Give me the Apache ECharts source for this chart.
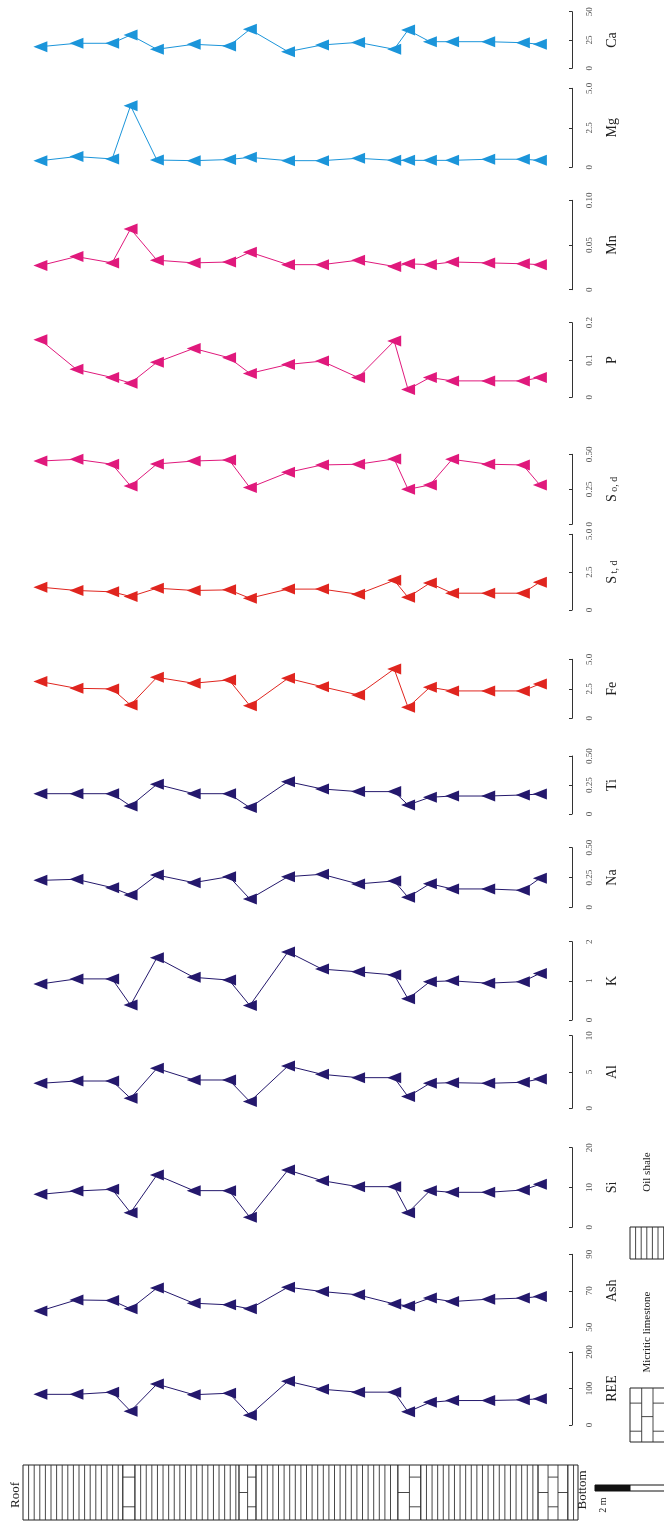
<!DOCTYPE html>
<html>
<head>
<meta charset="utf-8">
<script src="https://cdn.jsdelivr.net/npm/echarts@6/dist/echarts.min.js"></script>
<style>
  html, body { margin: 0; padding: 0; background: #fff; }
  #chart { width: 664px; height: 1521px; }
</style>
</head>
<body>
<div id="chart"></div>
<script>
// sample positions along the section, metres below the roof
const sampleDepth = [0.50, 1.54, 2.57, 3.10, 3.86, 4.92, 5.94, 6.54, 7.64, 8.62, 9.66, 10.70, 11.10, 11.73, 12.37, 13.41, 14.41, 14.90];

// element names, top panel first
const elements = ['Ca', 'Mg', 'Mn', 'P', 'So,d', 'St,d', 'Fe', 'Ti', 'Na', 'K', 'Al', 'Si', 'Ash', 'REE'];

const caValues = [19.1, 22.1, 22.1, 29.4, 16.8, 21.2, 19.7, 34.4, 14.7, 20.6, 22.9, 16.8, 33.8, 23.5, 23.5, 23.5, 22.6, 21.2];
const mgValues = [0.42, 0.68, 0.53, 3.90, 0.46, 0.42, 0.49, 0.63, 0.42, 0.42, 0.57, 0.44, 0.44, 0.44, 0.44, 0.51, 0.51, 0.44];
const mnValues = [0.027, 0.037, 0.030, 0.068, 0.033, 0.030, 0.031, 0.042, 0.028, 0.028, 0.033, 0.026, 0.029, 0.028, 0.031, 0.030, 0.029, 0.028];
const pValues = [0.154, 0.075, 0.053, 0.038, 0.094, 0.131, 0.106, 0.064, 0.088, 0.097, 0.053, 0.151, 0.021, 0.053, 0.044, 0.044, 0.044, 0.053];
const sodValues = [0.452, 0.464, 0.429, 0.274, 0.431, 0.452, 0.460, 0.262, 0.371, 0.424, 0.429, 0.467, 0.250, 0.281, 0.464, 0.429, 0.424, 0.281];
const stdValues = [1.51, 1.29, 1.20, 0.89, 1.44, 1.29, 1.33, 0.78, 1.38, 1.38, 1.04, 1.96, 0.84, 1.78, 1.11, 1.11, 1.11, 1.84];
const feValues = [3.11, 2.54, 2.49, 1.13, 3.47, 2.97, 3.25, 1.07, 3.39, 2.68, 1.98, 4.18, 0.93, 2.63, 2.32, 2.32, 2.32, 2.91];
const tiValues = [0.175, 0.175, 0.175, 0.069, 0.256, 0.175, 0.175, 0.055, 0.279, 0.216, 0.193, 0.193, 0.078, 0.144, 0.155, 0.155, 0.164, 0.172];
const naValues = [0.226, 0.235, 0.165, 0.103, 0.271, 0.207, 0.257, 0.070, 0.257, 0.277, 0.196, 0.221, 0.084, 0.198, 0.154, 0.154, 0.142, 0.243];
const kValues = [0.92, 1.05, 1.05, 0.38, 1.59, 1.09, 1.02, 0.37, 1.74, 1.30, 1.23, 1.15, 0.54, 0.98, 1.00, 0.94, 0.98, 1.19];
const alValues = [3.44, 3.76, 3.76, 1.38, 5.50, 3.90, 3.90, 0.92, 5.83, 4.68, 4.22, 4.22, 1.61, 3.44, 3.53, 3.44, 3.58, 4.04];
const siValues = [8.28, 9.12, 9.54, 3.68, 13.14, 9.21, 9.21, 2.51, 14.39, 11.72, 10.21, 10.21, 3.68, 9.21, 8.79, 8.79, 9.37, 10.79];
const ashValues = [59.0, 65.0, 64.7, 60.1, 71.5, 63.2, 62.3, 60.1, 72.0, 69.6, 67.8, 62.8, 61.7, 66.0, 64.1, 65.4, 66.0, 66.9];
const reeValues = [84, 84, 90, 38, 112, 83, 87, 27, 120, 98, 90, 90, 36, 62, 67, 67, 69, 72];

const seriesValues = [caValues, mgValues, mnValues, pValues, sodValues, stdValues, feValues, tiValues, naValues, kValues, alValues, siValues, ashValues, reeValues];

// value axis ticks and their printed labels
const tickValues = [
  [0, 25, 50], [0, 2.5, 5], [0, 0.05, 0.1], [0, 0.1, 0.2], [0, 0.25, 0.5], [0, 2.5, 5], [0, 2.5, 5],
  [0, 0.25, 0.5], [0, 0.25, 0.5], [0, 1, 2], [0, 5, 10], [0, 10, 20], [50, 70, 90], [0, 100, 200]
];
const tickLabels = [
  ['0', '25', '50'], ['0', '2.5', '5.0'], ['0', '0.05', '0.10'], ['0', '0.1', '0.2'], ['0', '0.25', '0.50'],
  ['0', '2.5', '5.0'], ['0', '2.5', '5.0'], ['0', '0.25', '0.50'], ['0', '0.25', '0.50'], ['0', '1', '2'],
  ['0', '5', '10'], ['0', '10', '20'], ['50', '70', '90'], ['0', '100', '200']
];

// lithology column (metres)
const layerTop = [0, 2.88, 3.23, 6.23, 6.72, 10.81, 11.47, 14.85, 15.71];
const layerBase = [2.88, 3.23, 6.23, 6.72, 10.81, 11.47, 14.85, 15.71, 16];
const layerRock = ['shale', 'limestone', 'shale', 'limestone', 'shale', 'limestone', 'shale', 'limestone', 'shale'];

// ---- layout ----
const NAVY = '#24186c', RED = '#e0251f', PINK = '#e0197c', BLUE = '#1b95da';
const panelColor = [BLUE, BLUE, PINK, PINK, PINK, RED, RED, NAVY, NAVY, NAVY, NAVY, NAVY, NAVY, NAVY];
// pixel top / bottom of each value axis
const panelBox = [
  [11.7, 68.3], [88.3, 167.3], [200.3, 289.7], [322.7, 397.3], [454.3, 524.3], [534.3, 610],
  [659.3, 718.3], [756, 814], [847.7, 907.3], [941.7, 1020], [1035.7, 1108.3], [1147.7, 1227.3],
  [1254.3, 1327.3], [1352, 1425]
];
const COL_LEFT = 23, COL_WIDTH = 555, DEPTH_MAX = 16;
const PANEL_WIDTH = 549;
const PANEL_DEPTH_MAX = DEPTH_MAX * PANEL_WIDTH / COL_WIDTH;
const FONT = '"Liberation Serif", "DejaVu Serif", serif';

function axisName(el) {
  if (el === 'St,d') return '{s|S}{sub| t, d}';
  if (el === 'So,d') return '{s|S}{sub| o, d}';
  return el;
}

const grids = [], xAxes = [], yAxes = [], series = [];
elements.forEach((el, i) => {
  const [t, b] = panelBox[i];
  grids.push({ left: COL_LEFT, width: PANEL_WIDTH, top: t, height: b - t });
  xAxes.push({ type: 'value', gridIndex: i, min: 0, max: PANEL_DEPTH_MAX, show: false });
  const ticks = tickValues[i];
  yAxes.push({
    type: 'value', gridIndex: i, position: 'right',
    min: ticks[0], max: ticks[ticks.length - 1],
    splitLine: { show: false },
    axisLine: { show: true, onZero: false, lineStyle: { color: '#333', width: 1 } },
    axisTick: { show: true, inside: true, length: 3, customValues: ticks, lineStyle: { color: '#333' } },
    axisLabel: {
      show: true, rotate: 90, margin: 13, fontSize: 9, color: '#555', fontFamily: FONT,
      customValues: ticks,
      formatter: v => {
        const k = ticks.findIndex(tv => Math.abs(tv - v) < 1e-9);
        return k >= 0 ? tickLabels[i][k] : '';
      }
    },
    name: axisName(el), nameLocation: 'middle', nameRotate: 90, nameGap: 33,
    nameTextStyle: {
      fontSize: 14, color: '#222', fontFamily: FONT,
      rich: { s: { fontSize: 14, color: '#222', fontFamily: FONT }, sub: { fontSize: 10, color: '#222', fontFamily: FONT, padding: [4, 0, 0, 0] } }
    }
  });
  series.push({
    type: 'line', xAxisIndex: i, yAxisIndex: i,
    data: sampleDepth.map((d, k) => [d, seriesValues[i][k]]),
    symbol: 'triangle', symbolSize: [11, 14], symbolRotate: 90,
    lineStyle: { color: panelColor[i], width: 1 },
    itemStyle: { color: panelColor[i] },
    silent: true
  });
});

// lithology column grid
const ci = elements.length;
grids.push({ left: COL_LEFT, width: COL_WIDTH, top: 1465, height: 55 });
xAxes.push({ type: 'value', gridIndex: ci, min: 0, max: DEPTH_MAX, show: false });
yAxes.push({ type: 'value', gridIndex: ci, min: 0, max: 1, show: false });

function seg(x1, y1, x2, y2) {
  return { type: 'line', shape: { x1, y1, x2, y2 }, style: { stroke: '#333', lineWidth: 0.9 } };
}
function limestoneLines(x0, x1, top, h, out) {
  const n = Math.max(1, Math.round((x1 - x0) / 10.5));
  const w = (x1 - x0) / n;
  for (let k = 0; k < n; k++) {
    const cx = x0 + k * w;
    if (k > 0) out.push(seg(cx, top, cx, top + h));
    const ys = (n === 1 || k % 2 === 1) ? [0.22, 0.76] : [0.5];
    ys.forEach(f => out.push(seg(cx, top + f * h, cx + w, top + f * h)));
  }
}
series.push({
  type: 'custom', xAxisIndex: ci, yAxisIndex: ci, silent: true,
  data: layerTop.map((t, k) => [t, layerBase[k], k]),
  renderItem: (params, api) => {
    const x0 = api.coord([api.value(0), 0])[0];
    const x1 = api.coord([api.value(1), 0])[0];
    const cs = params.coordSys;
    const top = cs.y, h = cs.height;
    const children = [{ type: 'rect', shape: { x: x0, y: top, width: x1 - x0, height: h }, style: { fill: '#fff', stroke: '#222', lineWidth: 1 } }];
    if (layerRock[api.value(2)] === 'shale') {
      for (let x = x0 + 5.6; x < x1 - 2; x += 5.6) children.push(seg(x, top, x, top + h));
    } else {
      limestoneLines(x0, x1, top, h, children);
    }
    return { type: 'group', children };
  }
});

// legend boxes, scale bar and labels
const graphics = [];
function vtext(text, x, y, size) {
  graphics.push({ type: 'text', x, y, rotation: Math.PI / 2, style: { text, fontSize: size, fontFamily: FONT, fill: '#222', align: 'center', verticalAlign: 'middle' } });
}
graphics.push({ type: 'rect', shape: { x: 630, y: 1388, width: 40, height: 54 }, style: { fill: '#fff', stroke: '#222', lineWidth: 1 } });
[[630, 641.7, [0.28, 0.8]], [641.7, 653, [0.53]], [653, 664.5, [0.28, 0.8]]].forEach(([a, b, ys], k) => {
  if (k > 0) graphics.push(seg(a, 1388, a, 1442));
  ys.forEach(f => graphics.push(seg(a, 1388 + f * 54, b, 1388 + f * 54)));
});
graphics.push({ type: 'rect', shape: { x: 630, y: 1227, width: 40, height: 32 }, style: { fill: '#fff', stroke: '#222', lineWidth: 1 } });
for (let x = 635.6; x < 664; x += 5.6) graphics.push(seg(x, 1227, x, 1259));
vtext('Micritic limestone', 647, 1332, 11);
vtext('Oil shale', 647, 1172, 11);
vtext('Roof', 16, 1495, 13);
vtext('Bottom', 583, 1490, 13);
graphics.push({ type: 'rect', shape: { x: 595, y: 1485, width: 35, height: 6 }, style: { fill: '#111', stroke: '#111', lineWidth: 1 } });
graphics.push({ type: 'rect', shape: { x: 630, y: 1485, width: 40, height: 6 }, style: { fill: '#fff', stroke: '#111', lineWidth: 1 } });
vtext('2 m', 603, 1505, 10);
vtext('0', 668, 1505, 10);

const chart = echarts.init(document.getElementById('chart'));
chart.setOption({
  animation: false,
  backgroundColor: '#fff',
  grid: grids,
  xAxis: xAxes,
  yAxis: yAxes,
  series,
  graphic: graphics
});
</script>
</body>
</html>
